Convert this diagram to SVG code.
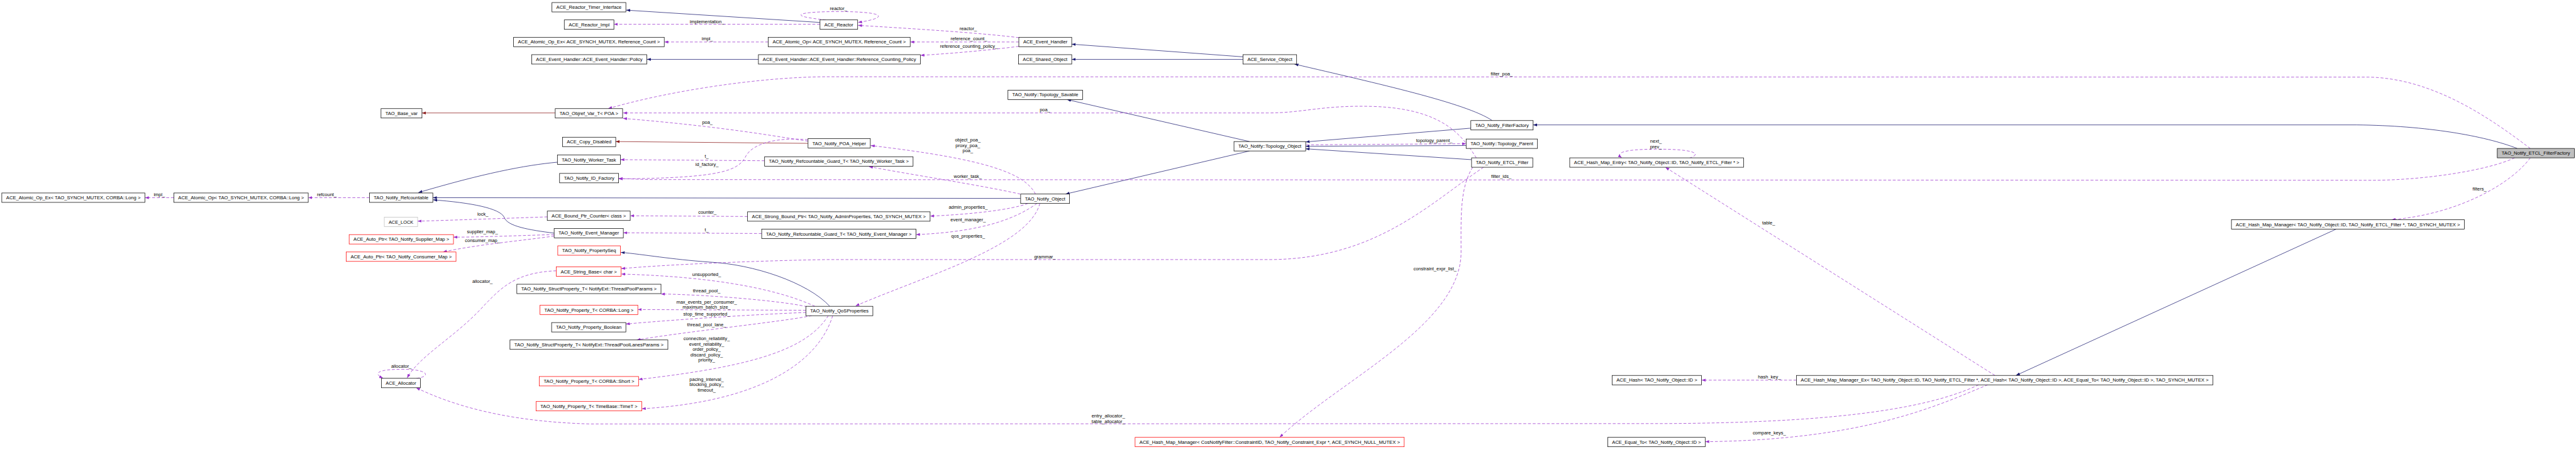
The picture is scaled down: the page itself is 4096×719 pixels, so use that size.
<svg xmlns="http://www.w3.org/2000/svg" width="4096" height="719" viewBox="0 0 4096 719">
<style>
text{font-family:"Liberation Sans",Arial,sans-serif;font-size:13px;fill:#000;text-anchor:middle}
.n rect{fill:#fff;stroke:#000;stroke-width:1.3}
.n.r rect{stroke:#ff0000}
.n.g rect{stroke:#bfbfbf}
.n.f rect{fill:#bfbfbf}
.i{fill:none;stroke:#191970;stroke-width:1.3;marker-end:url(#aI)}
.p{fill:none;stroke:#8b1a1a;stroke-width:1.3;marker-end:url(#aP)}
.u{fill:none;stroke:#9a32cd;stroke-width:1.3;stroke-dasharray:8,5;marker-end:url(#aU)}
</style>
<defs>
<marker id="aI" viewBox="0 0 11 8" refX="11" refY="4" markerWidth="11" markerHeight="8" markerUnits="userSpaceOnUse" orient="auto"><path d="M0,0 L11,4 L0,8 z" fill="#191970"/></marker>
<marker id="aP" viewBox="0 0 11 8" refX="11" refY="4" markerWidth="11" markerHeight="8" markerUnits="userSpaceOnUse" orient="auto"><path d="M0,0 L11,4 L0,8 z" fill="#8b1a1a"/></marker>
<marker id="aU" viewBox="0 0 11 8" refX="11" refY="4" markerWidth="11" markerHeight="8" markerUnits="userSpaceOnUse" orient="auto"><path d="M0,0 L11,4 L0,8 z" fill="#9a32cd"/></marker>
</defs>
<rect width="4096" height="719" fill="#fff"/>
<g transform="scale(0.5759)">
<g id="edges">
<path class="i" d="M2264,62 L1729,28"/>
<path class="i" d="M2094,164 L1786,164"/>
<path class="i" d="M3432,157 L2959,122"/>
<path class="i" d="M3432,164 L2959,164"/>
<path class="i" d="M4120,333 C4050,285 3800,230 3574,177"/>
<path class="i" d="M3450,391 L2946,275"/>
<path class="i" d="M3450,417 L2942,536"/>
<path class="i" d="M4061,354 L3605,392"/>
<path class="i" d="M4048,402 L3605,404"/>
<path class="i" d="M4063,441 L3605,411"/>
<path class="i" d="M6950,410 C6860,375 6700,347 6507,345 L4233,345"/>
<path class="i" d="M2818,548 L1195,546"/>
<path class="i" d="M1539,448 C1450,456 1330,480 1155,532"/>
<path class="i" d="M1530,644 C1460,635 1400,625 1392,600 C1380,575 1300,560 1196,552"/>
<path class="i" d="M2291,846 C2230,780 2080,730 1960,724 C1850,716 1780,703 1714,697"/>
<path class="i" d="M6450,633 L5566,1037"/>
<path class="p" d="M1533,312 L1165,312"/>
<path class="p" d="M2231,396 L1700,391"/>
<path class="u" d="M480,546 L400,546"/>
<path class="u" d="M1020,546 L851,546"/>
<path class="u" d="M2264,67 L1695,67"/>
<path class="u" d="M2280,55 C2170,44 2200,32 2316,32 C2440,32 2460,48 2369,62"/>
<path class="u" d="M2813,104 C2700,90 2500,78 2369,70"/>
<path class="u" d="M2813,116 L2513,116"/>
<path class="u" d="M2813,128 C2720,140 2620,148 2541,153"/>
<path class="u" d="M2121,116 L1834,116"/>
<path class="u" d="M6986,410 C6880,330 6720,216 6539,213 L2280,212 C2100,213 1850,250 1679,300"/>
<path class="u" d="M4076,436 C4040,380 3990,300 3790,294 C3650,290 3600,312 3500,312 L1720,312"/>
<path class="u" d="M2231,390 C2150,378 2000,350 1720,327"/>
<path class="u" d="M2231,386 C2150,378 2080,395 2060,430 C2040,470 2000,492 1708,494"/>
<path class="u" d="M2111,444 L1713,441"/>
<path class="u" d="M6943,436 C6870,470 6700,497 6553,498 L1790,496 L1708,493"/>
<path class="u" d="M2817,536 C2700,510 2500,480 2399,460"/>
<path class="u" d="M2859,536 C2830,480 2730,440 2404,402"/>
<path class="u" d="M2838,562 C2790,580 2680,592 2568,597"/>
<path class="u" d="M2863,562 C2810,600 2720,640 2529,648"/>
<path class="u" d="M2871,562 C2840,680 2560,760 2362,845"/>
<path class="u" d="M1511,599 C1400,603 1250,608 1153,611"/>
<path class="u" d="M2064,598 L1740,596"/>
<path class="u" d="M2103,645 L1721,643"/>
<path class="u" d="M1530,648 C1420,651 1330,655 1252,655"/>
<path class="u" d="M1530,652 C1440,665 1320,675 1223,696"/>
<path class="u" d="M1536,748 C1420,752 1380,800 1340,840 C1260,930 1160,980 1124,1044"/>
<path class="u" d="M1150,1045 C1190,1040 1185,1020 1110,1020 C1040,1020 1030,1032 1058,1045"/>
<path class="u" d="M2250,846 C2160,805 2000,765 1715,757"/>
<path class="u" d="M2228,847 C2150,830 1950,814 1825,812"/>
<path class="u" d="M2225,857 L1761,855"/>
<path class="u" d="M2225,863 C2100,868 1900,880 1728,895"/>
<path class="u" d="M2241,872 C2150,890 1900,915 1758,939"/>
<path class="u" d="M2287,872 C2230,960 2100,1010 1763,1048"/>
<path class="u" d="M2299,872 C2260,1000 2100,1110 1772,1129"/>
<path class="u" d="M4096,462 C3950,560 3800,715 3508,717 L2283,717 C2100,720 1850,730 1715,742"/>
<path class="u" d="M4066,462 C4030,520 4034,600 4034,700 C4030,900 3700,1050 3533,1208"/>
<path class="u" d="M6986,436 C6940,500 6800,590 6603,607"/>
<path class="u" d="M4664,437 C4700,425 4680,412 4577,412 C4470,412 4462,425 4478,436"/>
<path class="u" d="M5508,1037 L4598,462"/>
<path class="u" d="M4960,1050 L4698,1050"/>
<path class="u" d="M5488,1063 C5350,1120 5150,1215 4708,1220"/>
<path class="u" d="M5463,1063 C5300,1140 5000,1168 4594,1170 L1630,1171 C1400,1165 1250,1120 1149,1071"/>
<path class="u" d="M3607,400 L4048,397"/>
<g id="edge-labels">
<text x="440" y="541">impl_</text>
<text x="902" y="541">refcount_</text>
<text x="1952" y="64">implementation_</text>
<text x="2315" y="28">reactor_</text>
<text x="2673" y="83">reactor_</text>
<text x="2675" y="112">reference_count_</text>
<text x="2675" y="132">reference_counting_policy_</text>
<text x="1953" y="112">impl_</text>
<text x="4146" y="208">filter_poa_</text>
<text x="2885" y="308">poa_</text>
<text x="1953" y="342">poa_</text>
<text x="1952" y="459">id_factory_</text>
<text x="1951" y="436">t_</text>
<text x="4145" y="492">filter_ids_</text>
<text x="2672" y="492">worker_task_</text>
<text x="2672" y="391">object_poa_</text>
<text x="2672" y="407">proxy_poa_</text>
<text x="2672" y="421">poa_</text>
<text x="2673" y="577">admin_properties_</text>
<text x="2673" y="611">event_manager_</text>
<text x="2673" y="657">qos_properties_</text>
<text x="1333" y="596">lock_</text>
<text x="1953" y="591">counter_</text>
<text x="1951" y="639">t_</text>
<text x="1332" y="645">supplier_map_</text>
<text x="1332" y="668">consumer_map_</text>
<text x="1332" y="782">allocator_</text>
<text x="1108" y="1016">allocator_</text>
<text x="1951" y="763">unsupported_</text>
<text x="1951" y="807">thread_pool_</text>
<text x="1951" y="839">max_events_per_consumer_</text>
<text x="1951" y="853">maximum_batch_size_</text>
<text x="1951" y="872">stop_time_supported_</text>
<text x="1951" y="901">thread_pool_lane_</text>
<text x="1951" y="940">connection_reliability_</text>
<text x="1951" y="955">event_reliability_</text>
<text x="1951" y="969">order_policy_</text>
<text x="1951" y="984">discard_policy_</text>
<text x="1951" y="999">priority_</text>
<text x="1951" y="1052">pacing_interval_</text>
<text x="1951" y="1067">blocking_policy_</text>
<text x="1951" y="1081">timeout_</text>
<text x="2885" y="713">grammar_</text>
<text x="3962" y="747">constraint_expr_list_</text>
<text x="6846" y="527">filters_</text>
<text x="4572" y="395">next_</text>
<text x="4572" y="409">prev_</text>
<text x="4883" y="620">table_</text>
<text x="4885" y="1045">hash_key_</text>
<text x="4885" y="1200">compare_keys_</text>
<text x="3060" y="1153">entry_allocator_</text>
<text x="3060" y="1168">table_allocator_</text>
<text x="3960" y="392">topology_parent_</text>
</g>
</g>
<g id="n1" class="n"><rect x="5" y="533" width="395" height="26"/><text x="202.5" y="550.5" textLength="371" lengthAdjust="spacingAndGlyphs">ACE_Atomic_Op_Ex&lt; TAO_SYNCH_MUTEX, CORBA::Long &gt;</text></g>
<g id="n2" class="n"><rect x="480" y="533" width="371" height="26"/><text x="665.5" y="550.5" textLength="347" lengthAdjust="spacingAndGlyphs">ACE_Atomic_Op&lt; TAO_SYNCH_MUTEX, CORBA::Long &gt;</text></g>
<g id="n3" class="n"><rect x="1020" y="533" width="175" height="26"/><text x="1107.5" y="550.5" textLength="151" lengthAdjust="spacingAndGlyphs">TAO_Notify_Refcountable</text></g>
<g id="n4" class="n g"><rect x="1061" y="600" width="92" height="26"/><text x="1107" y="617.5" textLength="68" lengthAdjust="spacingAndGlyphs">ACE_LOCK</text></g>
<g id="n5" class="n r"><rect x="964" y="648" width="288" height="26"/><text x="1108" y="665.5" textLength="264" lengthAdjust="spacingAndGlyphs">ACE_Auto_Ptr&lt; TAO_Notify_Supplier_Map &gt;</text></g>
<g id="n6" class="n r"><rect x="956" y="696" width="303" height="26"/><text x="1107.5" y="713.5" textLength="279" lengthAdjust="spacingAndGlyphs">ACE_Auto_Ptr&lt; TAO_Notify_Consumer_Map &gt;</text></g>
<g id="n7" class="n"><rect x="1053" y="1045" width="108" height="26"/><text x="1107" y="1062.5" textLength="84" lengthAdjust="spacingAndGlyphs">ACE_Allocator</text></g>
<g id="n8" class="n"><rect x="1052" y="300" width="113" height="26"/><text x="1108.5" y="317.5" textLength="89" lengthAdjust="spacingAndGlyphs">TAO_Base_var</text></g>
<g id="n9" class="n"><rect x="1524" y="7" width="204" height="26"/><text x="1626" y="24.5" textLength="180" lengthAdjust="spacingAndGlyphs">ACE_Reactor_Timer_Interface</text></g>
<g id="n10" class="n"><rect x="1558" y="55" width="137" height="26"/><text x="1626.5" y="72.5" textLength="113" lengthAdjust="spacingAndGlyphs">ACE_Reactor_Impl</text></g>
<g id="n11" class="n"><rect x="1418" y="103" width="416" height="26"/><text x="1626" y="120.5" textLength="392" lengthAdjust="spacingAndGlyphs">ACE_Atomic_Op_Ex&lt; ACE_SYNCH_MUTEX, Reference_Count &gt;</text></g>
<g id="n12" class="n"><rect x="1468" y="151" width="318" height="26"/><text x="1627" y="168.5" textLength="294" lengthAdjust="spacingAndGlyphs">ACE_Event_Handler::ACE_Event_Handler::Policy</text></g>
<g id="n13" class="n"><rect x="1533" y="300" width="186" height="26"/><text x="1626" y="317.5" textLength="162" lengthAdjust="spacingAndGlyphs">TAO_Objref_Var_T&lt; POA &gt;</text></g>
<g id="n14" class="n"><rect x="1553" y="379" width="147" height="26"/><text x="1626.5" y="396.5" textLength="123" lengthAdjust="spacingAndGlyphs">ACE_Copy_Disabled</text></g>
<g id="n15" class="n"><rect x="1539" y="428" width="174" height="26"/><text x="1626" y="445.5" textLength="150" lengthAdjust="spacingAndGlyphs">TAO_Notify_Worker_Task</text></g>
<g id="n16" class="n"><rect x="1545" y="479" width="163" height="26"/><text x="1626.5" y="496.5" textLength="139" lengthAdjust="spacingAndGlyphs">TAO_Notify_ID_Factory</text></g>
<g id="n17" class="n"><rect x="1511" y="583" width="229" height="26"/><text x="1625.5" y="600.5" textLength="205" lengthAdjust="spacingAndGlyphs">ACE_Bound_Ptr_Counter&lt; class &gt;</text></g>
<g id="n18" class="n"><rect x="1530" y="631" width="191" height="26"/><text x="1625.5" y="648.5" textLength="167" lengthAdjust="spacingAndGlyphs">TAO_Notify_Event_Manager</text></g>
<g id="n19" class="n r"><rect x="1540" y="679" width="173" height="26"/><text x="1626.5" y="696.5" textLength="149" lengthAdjust="spacingAndGlyphs">TAO_Notify_PropertySeq</text></g>
<g id="n20" class="n r"><rect x="1536" y="737" width="179" height="26"/><text x="1625.5" y="754.5" textLength="155" lengthAdjust="spacingAndGlyphs">ACE_String_Base&lt; char &gt;</text></g>
<g id="n21" class="n"><rect x="1427" y="785" width="398" height="26"/><text x="1626" y="802.5" textLength="374" lengthAdjust="spacingAndGlyphs">TAO_Notify_StructProperty_T&lt; NotifyExt::ThreadPoolParams &gt;</text></g>
<g id="n22" class="n r"><rect x="1491" y="843" width="270" height="26"/><text x="1626" y="860.5" textLength="246" lengthAdjust="spacingAndGlyphs">TAO_Notify_Property_T&lt; CORBA::Long &gt;</text></g>
<g id="n23" class="n"><rect x="1523" y="891" width="205" height="26"/><text x="1625.5" y="908.5" textLength="181" lengthAdjust="spacingAndGlyphs">TAO_Notify_Property_Boolean</text></g>
<g id="n24" class="n"><rect x="1408" y="939" width="436" height="26"/><text x="1626" y="956.5" textLength="412" lengthAdjust="spacingAndGlyphs">TAO_Notify_StructProperty_T&lt; NotifyExt::ThreadPoolLanesParams &gt;</text></g>
<g id="n25" class="n r"><rect x="1489" y="1040" width="274" height="26"/><text x="1626" y="1057.5" textLength="250" lengthAdjust="spacingAndGlyphs">TAO_Notify_Property_T&lt; CORBA::Short &gt;</text></g>
<g id="n26" class="n r"><rect x="1480" y="1109" width="292" height="26"/><text x="1626" y="1126.5" textLength="268" lengthAdjust="spacingAndGlyphs">TAO_Notify_Property_T&lt; TimeBase::TimeT &gt;</text></g>
<g id="n27" class="n"><rect x="2264" y="55" width="104" height="26"/><text x="2316" y="72.5" textLength="80" lengthAdjust="spacingAndGlyphs">ACE_Reactor</text></g>
<g id="n28" class="n"><rect x="2121" y="103" width="392" height="26"/><text x="2317" y="120.5" textLength="368" lengthAdjust="spacingAndGlyphs">ACE_Atomic_Op&lt; ACE_SYNCH_MUTEX, Reference_Count &gt;</text></g>
<g id="n29" class="n"><rect x="2094" y="151" width="447" height="26"/><text x="2317.5" y="168.5" textLength="423" lengthAdjust="spacingAndGlyphs">ACE_Event_Handler::ACE_Event_Handler::Reference_Counting_Policy</text></g>
<g id="n30" class="n"><rect x="2231" y="383" width="172" height="26"/><text x="2317" y="400.5" textLength="148" lengthAdjust="spacingAndGlyphs">TAO_Notify_POA_Helper</text></g>
<g id="n31" class="n"><rect x="2111" y="433" width="410" height="26"/><text x="2316" y="450.5" textLength="386" lengthAdjust="spacingAndGlyphs">TAO_Notify_Refcountable_Guard_T&lt; TAO_Notify_Worker_Task &gt;</text></g>
<g id="n32" class="n"><rect x="2064" y="585" width="504" height="26"/><text x="2316" y="602.5" textLength="480" lengthAdjust="spacingAndGlyphs">ACE_Strong_Bound_Ptr&lt; TAO_Notify_AdminProperties, TAO_SYNCH_MUTEX &gt;</text></g>
<g id="n33" class="n"><rect x="2103" y="633" width="426" height="26"/><text x="2316" y="650.5" textLength="402" lengthAdjust="spacingAndGlyphs">TAO_Notify_Refcountable_Guard_T&lt; TAO_Notify_Event_Manager &gt;</text></g>
<g id="n34" class="n"><rect x="2225" y="846" width="185" height="26"/><text x="2317.5" y="863.5" textLength="161" lengthAdjust="spacingAndGlyphs">TAO_Notify_QoSProperties</text></g>
<g id="n35" class="n"><rect x="2813" y="103" width="146" height="26"/><text x="2886" y="120.5" textLength="122" lengthAdjust="spacingAndGlyphs">ACE_Event_Handler</text></g>
<g id="n36" class="n"><rect x="2812" y="151" width="147" height="26"/><text x="2885.5" y="168.5" textLength="123" lengthAdjust="spacingAndGlyphs">ACE_Shared_Object</text></g>
<g id="n37" class="n"><rect x="2783" y="249" width="206" height="26"/><text x="2886" y="266.5" textLength="182" lengthAdjust="spacingAndGlyphs">TAO_Notify::Topology_Savable</text></g>
<g id="n38" class="n"><rect x="2818" y="536" width="135" height="26"/><text x="2885.5" y="553.5" textLength="111" lengthAdjust="spacingAndGlyphs">TAO_Notify_Object</text></g>
<g id="n39" class="n"><rect x="3432" y="151" width="148" height="26"/><text x="3506" y="168.5" textLength="124" lengthAdjust="spacingAndGlyphs">ACE_Service_Object</text></g>
<g id="n40" class="n"><rect x="3407" y="391" width="198" height="26"/><text x="3506" y="408.5" textLength="174" lengthAdjust="spacingAndGlyphs">TAO_Notify::Topology_Object</text></g>
<g id="n41" class="n"><rect x="4061" y="333" width="172" height="26"/><text x="4147" y="350.5" textLength="148" lengthAdjust="spacingAndGlyphs">TAO_Notify_FilterFactory</text></g>
<g id="n42" class="n"><rect x="4048" y="384" width="197" height="26"/><text x="4146.5" y="401.5" textLength="173" lengthAdjust="spacingAndGlyphs">TAO_Notify::Topology_Parent</text></g>
<g id="n43" class="n"><rect x="4063" y="436" width="169" height="26"/><text x="4147.5" y="453.5" textLength="145" lengthAdjust="spacingAndGlyphs">TAO_Notify_ETCL_Filter</text></g>
<g id="n44" class="n"><rect x="4334" y="436" width="480" height="26"/><text x="4574" y="453.5" textLength="456" lengthAdjust="spacingAndGlyphs">ACE_Hash_Map_Entry&lt; TAO_Notify_Object::ID, TAO_Notify_ETCL_Filter * &gt;</text></g>
<g id="n45" class="n r"><rect x="3134" y="1208" width="743" height="26"/><text x="3505.5" y="1225.5" textLength="719" lengthAdjust="spacingAndGlyphs">ACE_Hash_Map_Manager&lt; CosNotifyFilter::ConstraintID, TAO_Notify_Constraint_Expr *, ACE_SYNCH_NULL_MUTEX &gt;</text></g>
<g id="n46" class="n"><rect x="4451" y="1037" width="247" height="26"/><text x="4574.5" y="1054.5" textLength="223" lengthAdjust="spacingAndGlyphs">ACE_Hash&lt; TAO_Notify_Object::ID &gt;</text></g>
<g id="n47" class="n"><rect x="4439" y="1208" width="269" height="26"/><text x="4573.5" y="1225.5" textLength="245" lengthAdjust="spacingAndGlyphs">ACE_Equal_To&lt; TAO_Notify_Object::ID &gt;</text></g>
<g id="n48" class="n"><rect x="4960" y="1037" width="1150" height="26"/><text x="5535" y="1054.5" textLength="1126" lengthAdjust="spacingAndGlyphs">ACE_Hash_Map_Manager_Ex&lt; TAO_Notify_Object::ID, TAO_Notify_ETCL_Filter *, ACE_Hash&lt; TAO_Notify_Object::ID &gt;, ACE_Equal_To&lt; TAO_Notify_Object::ID &gt;, TAO_SYNCH_MUTEX &gt;</text></g>
<g id="n49" class="n"><rect x="6161" y="607" width="643" height="26"/><text x="6482.5" y="624.5" textLength="619" lengthAdjust="spacingAndGlyphs">ACE_Hash_Map_Manager&lt; TAO_Notify_Object::ID, TAO_Notify_ETCL_Filter *, TAO_SYNCH_MUTEX &gt;</text></g>
<g id="n50" class="n f"><rect x="6895" y="410" width="213" height="26"/><text x="7001.5" y="427.5" textLength="189" lengthAdjust="spacingAndGlyphs">TAO_Notify_ETCL_FilterFactory</text></g>
</g>
</svg>
